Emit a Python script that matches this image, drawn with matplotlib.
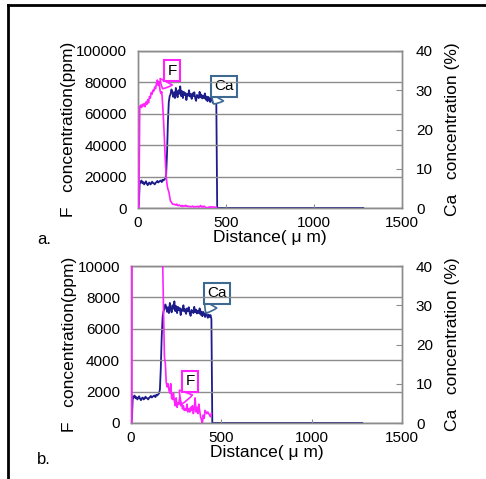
import numpy as np
import matplotlib
matplotlib.use("Agg")
import matplotlib.pyplot as plt
from matplotlib.lines import Line2D

plt.rcParams['font.family'] = ['Liberation Sans', 'DejaVu Sans']

# ---- data ----
distance = [0, 5, 10, 15, 20, 25, 30, 35, 40, 45, 50, 55, 60, 65, 70, 75, 80, 85, 90, 95,
            100, 105, 110, 115, 120, 125, 130, 135, 140, 145, 150, 155, 160, 165, 170, 175,
            180, 185, 190, 195, 200, 205, 210, 215, 220, 225, 230, 235, 240, 245, 250, 255,
            260, 265, 270, 275, 280, 285, 290, 295, 300, 305, 310, 315, 320, 325, 330, 335,
            340, 345, 350, 355, 360, 365, 370, 375, 380, 385, 390, 395, 400, 405, 410, 415,
            420, 425, 430, 435, 440, 445]

f_ppm = [0, 0, 64500, 65500, 64000, 66000, 65000, 66500, 64500, 67500, 66000, 69000,
         67000, 71000, 70000, 73500, 72500, 75000, 74500, 77000, 76000, 79500, 81500, 78000,
         80500, 75000, 73000, 74000, 66000, 56000, 44000, 31000, 20000, 15000, 12000, 10500,
         7200, 4200, 3800, 2600, 2300, 2500, 2100, 1900, 2500, 1600, 1500, 1900, 1400, 1100,
         1600, 1000, 1300, 1200, 1700, 1100, 1300, 900, 1100, 800, 900, 800, 1200, 700, 900,
         700, 1000, 800, 1100, 600, 900, 1600, 700, 1000, 600, 1200, 800, 400, 200, 0, 500,
         300, 800, 700, 600, 700, 600, 500, 400, 600]

ca_pct = [0, 1.0, 6.8, 6.5, 7.0, 6.3, 6.6, 6.0, 6.4, 6.8, 6.2, 5.8, 6.3, 6.5, 6.0, 6.2,
          6.7, 6.4, 6.3, 6.0, 6.4, 6.6, 6.9, 6.5, 6.7, 6.9, 7.0, 6.6, 7.2, 7.0, 7.3, 7.5,
          8.5, 14.0, 22.0, 27.0, 28.5, 29.0, 30.2, 29.6, 28.3, 29.5, 28.0, 30.6, 29.0, 28.2,
          30.0, 29.1, 31.0, 28.5, 29.8, 28.0, 29.6, 28.8, 29.3, 27.5, 29.0, 28.6, 30.0, 28.4,
          29.0, 27.8, 29.2, 28.5, 29.5, 28.0, 27.3, 28.8, 28.5, 28.0, 29.6, 28.2, 28.9, 27.9,
          28.6, 28.0, 29.2, 27.6, 28.4, 27.2, 28.3, 27.8, 27.0, 28.2, 27.5, 26.8, 27.6, 27.0,
          27.5, 26.5]
ca_tail_distance = [450, 1280]
ca_tail_pct = [0, 0]

x_ticks = [0, 500, 1000, 1500]
ca_ticks = [0, 10, 20, 30, 40]
f_ticks_a = [0, 20000, 40000, 60000, 80000, 100000]
f_ticks_b = [0, 2000, 4000, 6000, 8000, 10000]

F_COLOR = '#ff22ff'
CA_COLOR = '#1c1c8a'
CA_BOX = '#3e6a92'
GRID = '#8c8c8c'

W, H = 486, 479
fig = plt.figure(figsize=(W / 100, H / 100), dpi=100)

ca_x = distance + ca_tail_distance
ca_y = ca_pct + ca_tail_pct


def callout(axis, text, xytext, xy, color):
    axis.annotate(text, xy=xy, xytext=xytext, fontsize=11, ha='center', va='center', zorder=10,
                  bbox=dict(boxstyle='square,pad=0.22', fc='white', ec=color, lw=1.5),
                  arrowprops=dict(arrowstyle='wedge,tail_width=0.9,shrink_factor=0.6',
                                  fc='white', ec=color, lw=1.2, shrinkA=0, shrinkB=0))


def panel(rect, f_ticks, f_max, letter, letter_xy, f_callout, ca_callout):
    ax = fig.add_axes(rect)
    ax2 = ax.twinx()
    ax.set_zorder(ax2.get_zorder() + 1)
    ax.patch.set_visible(False)

    ax.plot(distance, f_ppm, color=F_COLOR, lw=1.2, zorder=3)
    ax2.plot(ca_x, ca_y, color=CA_COLOR, lw=1.3, zorder=3)

    ax.set_xlim(0, 1500)
    ax.set_ylim(0, f_max)
    ax2.set_ylim(0, 40)
    ax.set_xticks(x_ticks)
    ax.set_yticks(f_ticks)
    ax.set_yticklabels([str(v) for v in f_ticks])
    ax2.set_yticks(ca_ticks)

    ax.yaxis.grid(True, color=GRID, lw=1.0)
    ax.set_axisbelow(True)
    for a in (ax, ax2):
        for s in a.spines.values():
            s.set_color(GRID)
            s.set_linewidth(1.0)
    ax.tick_params(axis='y', length=0, labelsize=11, pad=8)
    ax.tick_params(axis='x', direction='in', length=3, color=GRID, labelsize=11, pad=6)
    ax2.tick_params(axis='y', direction='in', length=4, color=GRID, labelsize=11, pad=10)

    ax.set_xlabel('Distance( \u03bc m)', fontsize=12.5, labelpad=0)
    ax.set_ylabel('F   concentration(ppm)', fontsize=12.5, labelpad=0)
    ax2.set_ylabel('Ca   concentration (%)', fontsize=12.5, labelpad=9, rotation=90)

    callout(ax, 'F', f_callout[0], f_callout[1], F_COLOR)
    callout(ax2, 'Ca', ca_callout[0], ca_callout[1], CA_BOX)

    fig.text(letter_xy[0], letter_xy[1], letter, fontsize=12, ha='left', va='center')
    return ax, ax2


panel([138 / W, 1 - 208 / H, 264 / W, 157 / H], f_ticks_a, 100000, 'a.', (37 / W, 1 - 240 / H),
      ((193, 87500), (140, 76000)), ((489, 31.0), (430, 26.5)))
panel([131 / W, 1 - 423 / H, 271 / W, 157 / H], f_ticks_b, 10000, 'b.', (37 / W, 1 - 460 / H),
      ((327, 2650), (280, 1200)), ((476, 33.0), (415, 28.0)))

# outer frame (left and top edges visible)
fig.add_artist(Line2D([8 / W, 8 / W], [0, 1 - 5 / H], transform=fig.transFigure, color='black', lw=2))
fig.add_artist(Line2D([8 / W, 1], [1 - 5 / H, 1 - 5 / H], transform=fig.transFigure, color='black', lw=2))

fig.savefig('out.png', dpi=100)
